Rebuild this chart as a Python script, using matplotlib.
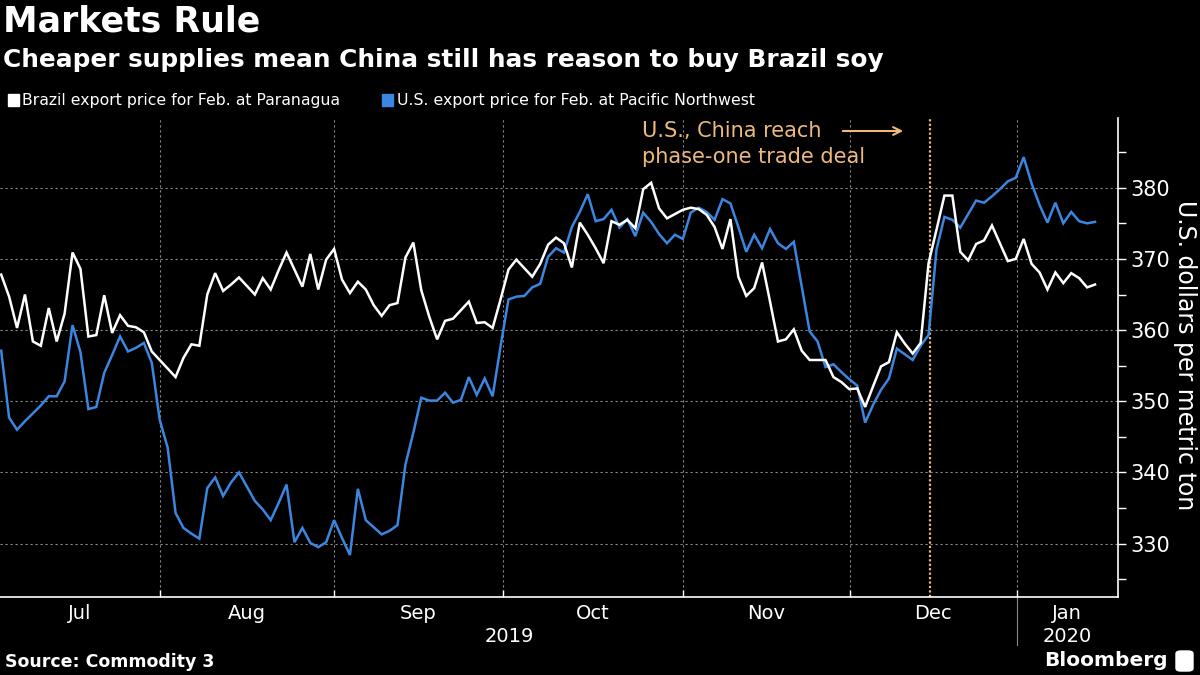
import numpy as np
import matplotlib
matplotlib.use("Agg")
import matplotlib.pyplot as plt
from matplotlib.patches import Rectangle, FancyBboxPatch
from matplotlib.ticker import MultipleLocator

# === data (daily trading points, Jul 2019 - mid Jan 2020) ===
brazil = [367.8, 364.7, 360.3, 365.0, 358.4, 357.8, 363.1, 358.4, 362.3, 370.9,
          368.6, 359.1, 359.3, 364.9, 359.6, 362.1, 360.6, 360.4, 359.7, 357.0,
          355.8, 354.6, 353.4, 356.1, 358.0, 357.8, 365.0, 368.0, 365.5, 366.4,
          367.4, 366.2, 365.0, 367.3, 365.7, 368.4, 370.9, 368.5, 366.1, 370.7,
          365.7, 369.9, 371.4, 367.1, 365.2, 366.8, 365.7, 363.5, 362.0, 363.5,
          363.8, 370.2, 372.3, 365.6, 361.9, 358.7, 361.3,
          361.6, 362.8, 364.0, 361.0, 361.1, 360.3, 364.3, 368.5, 369.9, 368.7,
          367.5, 369.3, 372.0, 373.0, 372.2, 368.8, 375.1, 373.4, 371.5, 369.4,
          375.3, 374.8, 375.5, 374.3, 379.8, 380.7, 377.1, 375.7,
          376.3, 376.9, 377.2, 377.0, 376.2, 374.5, 371.4, 375.6, 367.5, 364.8,
          365.9, 369.5, 364.0, 358.4, 358.7, 360.1, 357.1, 355.8, 355.8, 355.8,
          353.4, 352.7, 351.7, 351.8, 349.2, 352.1, 354.9, 355.5,
          359.7, 358.1, 356.7, 358.2, 369.4, 374.1, 378.9, 378.9, 371.0, 369.8,
          372.1, 372.6, 374.7, 372.2, 369.7, 370.0, 372.8, 369.3, 368.1, 365.7,
          368.1, 366.6, 368.0, 367.3, 366.0, 366.4]

us_pnw = [357.1, 347.7, 346.0, 347.2, 348.3, 349.4, 350.7, 350.7, 352.8, 360.7,
          356.9, 348.9, 349.2, 354.0, 356.5, 359.1, 357.0, 357.5, 358.2, 355.4,
          347.4, 343.5, 334.3, 332.2, 331.4, 330.7, 337.8, 339.3, 336.7, 338.6,
          340.0, 338.0, 336.0, 334.8, 333.3, 335.7, 338.3, 330.2, 332.2, 330.1,
          329.5, 330.2, 333.3, 330.8, 328.4, 337.7, 333.3, 332.3, 331.3, 331.8,
          332.6, 341.1, 345.6, 350.5, 350.1, 350.1, 351.2,
          349.8, 350.2, 353.4, 350.9, 353.2, 350.7, 357.7, 364.3, 364.7, 364.8,
          366.0, 366.5, 370.3, 371.5, 370.9, 374.5, 376.6, 379.1, 375.3, 375.6,
          376.9, 374.4, 375.6, 373.2, 376.5, 375.2, 373.5, 372.2,
          373.4, 372.8, 376.5, 377.2, 376.6, 375.5, 378.4, 377.8, 374.5, 371.0,
          373.4, 371.5, 374.2, 372.2, 371.4, 372.4, 366.1, 359.8, 358.4, 354.8,
          355.2, 354.1, 353.1, 352.2, 347.0, 349.5, 351.6, 353.2,
          357.4, 356.6, 355.8, 357.8, 359.3, 371.3, 375.9, 375.5, 374.4, 376.3,
          378.2, 377.9, 378.8, 379.8, 380.9, 381.4, 384.3, 380.6, 377.6, 375.1,
          377.9, 375.0, 376.6, 375.3, 375.0, 375.2]

months = ["Jul", "Aug", "Sep", "Oct", "Nov", "Dec", "Jan"]
month_starts = [20.05, 42.0, 63.3, 86.0, 107.1, 128.1]   # trading-day index of month boundaries
deal_idx = 117.15
x_end = 140.9

assert len(brazil) == len(us_pnw)
x = np.arange(len(brazil))

plt.rcParams['font.family'] = ['DejaVu Sans']

BG = "black"
BLUE = "#3A86E0"
ORANGE = "#EDB97E"
GRID = "#8a8a8a"

fig = plt.figure(figsize=(12, 6.75), dpi=100, facecolor=BG)
ax = fig.add_axes([0.0, 1 - 597 / 675, 1118 / 1200, (597 - 118) / 675])
ax.set_facecolor(BG)

ax.plot(x, us_pnw, color=BLUE, lw=1.8, solid_joinstyle='miter', zorder=3)
ax.plot(x, brazil, color="white", lw=1.8, solid_joinstyle='miter', zorder=4)

ax.axvline(deal_idx, color=ORANGE, lw=1.6, ls=(0, (1, 1)), zorder=2)

ax.set_xlim(-0.15, x_end)
ax.set_ylim(322.5, 389.8)

# y axis on the right
ax.yaxis.tick_right()
ax.yaxis.set_major_locator(MultipleLocator(10))
ax.yaxis.set_minor_locator(MultipleLocator(5))
ax.tick_params(axis='y', which='major', colors='white', labelsize=15, length=6, width=1, pad=3)
ax.tick_params(axis='y', which='minor', colors='white', length=6, width=1)

# x axis: boundaries as major ticks, month names centred between them
bounds = [x[0] - 0.15] + month_starts + [x_end]
centers = [(bounds[i] + bounds[i + 1]) / 2 for i in range(len(months))]
ax.set_xticks(month_starts)
ax.set_xticklabels([])
ax.set_xticks(centers, minor=True)
ax.set_xticklabels(months, minor=True)
ax.tick_params(axis='x', which='major', direction='in', colors='white', length=5, width=1)
ax.tick_params(axis='x', which='minor', length=0, colors='white', labelsize=14, pad=5)

ax.grid(True, which='major', color=GRID, lw=0.8, ls=(0, (2, 2.5)))

for s in ['left', 'top']:
    ax.spines[s].set_visible(False)
for s in ['right', 'bottom']:
    ax.spines[s].set_color('white')
    ax.spines[s].set_linewidth(1.2)

# year labels and separator
trans = ax.get_xaxis_transform()
ax.text(centers[3] - 10.5, -0.082, "2019", transform=trans, color='white',
        fontsize=14, ha='center', va='center')
ax.text(centers[-1], -0.082, "2020", transform=trans, color='white',
        fontsize=14, ha='center', va='center')
ax.plot([month_starts[-1], month_starts[-1]], [0, -0.1], transform=trans,
        color=GRID, lw=0.8, clip_on=False)

# y label
fig.text(1185 / 1200, 1 - 355 / 675, "U.S. dollars per metric ton", rotation=270,
         color='white', fontsize=17, ha='center', va='center')

# annotation
fig.text(642 / 1200, 1 - 121 / 675, "U.S., China reach\nphase-one trade deal",
         color=ORANGE, fontsize=15, ha='left', va='top', linespacing=1.4)
ax.annotate("", xy=(906 / 1200, 1 - 131 / 675), xytext=(840 / 1200, 1 - 131 / 675),
            xycoords='figure fraction', textcoords='figure fraction',
            arrowprops=dict(arrowstyle='->', color=ORANGE, lw=1.5,
                            mutation_scale=14))

# titles
fig.text(3 / 1200, 1 - 22 / 675, "Markets Rule", color='white', fontsize=25,
         fontweight='bold', ha='left', va='center')
fig.text(3 / 1200, 1 - 60 / 675, "Cheaper supplies mean China still has reason to buy Brazil soy",
         color='white', fontsize=17.8, fontweight='bold', ha='left', va='center')

# legend
fig.add_artist(Rectangle((8 / 1200, 1 - 106 / 675), 11 / 1200, 12 / 675,
                         transform=fig.transFigure, color='white'))
fig.text(22 / 1200, 1 - 100 / 675, "Brazil export price for Feb. at Paranagua",
         color='white', fontsize=11.3, ha='left', va='center')
fig.add_artist(Rectangle((382 / 1200, 1 - 106 / 675), 11 / 1200, 12 / 675,
                         transform=fig.transFigure, color=BLUE))
fig.text(397 / 1200, 1 - 100 / 675, "U.S. export price for Feb. at Pacific Northwest",
         color='white', fontsize=11.3, ha='left', va='center')

# footer
fig.text(5 / 1200, 1 - 662 / 675, "Source: Commodity 3", color='white', fontsize=12.5,
         fontweight='bold', ha='left', va='center')
fig.text(1168 / 1200, 1 - 661 / 675, "Bloomberg", color='white', fontsize=14.5,
         fontweight='bold', ha='right', va='center')
fig.add_artist(FancyBboxPatch((1176 / 1200, 1 - 671 / 675), 17 / 1200, 20 / 675,
                              boxstyle='round,pad=0,rounding_size=0.004',
                              transform=fig.transFigure, color='white'))

fig.savefig("out.png", dpi=100, facecolor=BG)
